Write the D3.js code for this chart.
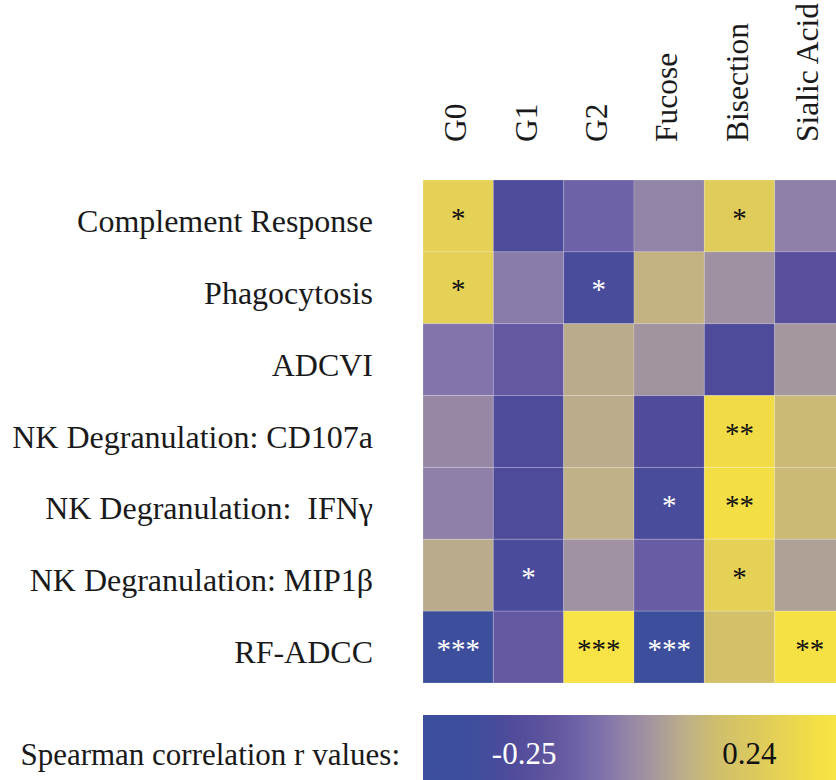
<!DOCTYPE html>
<html>
<head>
<meta charset="utf-8">
<script src="https://cdn.jsdelivr.net/npm/d3@7"></script>
<style>
  html, body { margin: 0; padding: 0; background: #fff; }
  svg { display: block; }
</style>
</head>
<body>
<svg id="chart" width="836" height="780"></svg>
<script>
// Glycan features (columns) and antibody functions (rows)
const glycans = ["G0", "G1", "G2", "Fucose", "Bisection", "Sialic Acid"];
const functions = [
  "Complement Response",
  "Phagocytosis",
  "ADCVI",
  "NK Degranulation: CD107a",
  "NK Degranulation:  IFN\u03b3",
  "NK Degranulation: MIP1\u03b2",
  "RF-ADCC"
];

// Spearman r per function, one value per glycan feature
const complementR = [0.30, -0.29, -0.14, -0.03, 0.27, -0.04];
const phagocytosisR = [0.30, -0.05, -0.31, 0.12, 0.01, -0.24];
const adcviR = [-0.07, -0.18, 0.09, 0.02, -0.29, 0.03];
const cd107aR = [-0.02, -0.29, 0.095, -0.27, 0.37, 0.15];
const ifngR = [-0.04, -0.29, 0.11, -0.31, 0.38, 0.15];
const mip1bR = [0.09, -0.30, 0.015, -0.16, 0.30, 0.06];
const rfAdccR = [-0.42, -0.18, 0.42, -0.42, 0.19, 0.40];
const rValues = [complementR, phagocytosisR, adcviR, cd107aR, ifngR, mip1bR, rfAdccR];

// Significance marks per cell
const complementSig = ["*", "", "", "", "*", ""];
const phagocytosisSig = ["*", "", "*", "", "", ""];
const adcviSig = ["", "", "", "", "", ""];
const cd107aSig = ["", "", "", "", "**", ""];
const ifngSig = ["", "", "", "*", "**", ""];
const mip1bSig = ["", "*", "", "", "*", ""];
const rfAdccSig = ["***", "", "***", "***", "", "**"];
const sigMarks = [complementSig, phagocytosisSig, adcviSig, cd107aSig, ifngSig, mip1bSig, rfAdccSig];

// Colour bar
const legendTitle = "Spearman correlation r values:";
const legendTicks = [-0.25, 0.24];
const legendDomain = [-0.47, 0.5];

// Diverging blue – purple – grey – tan – yellow palette
const colourStops = [-0.47, -0.353, -0.281, -0.194, -0.135, -0.063, -0.026, 0.03, 0.104, 0.176, 0.285, 0.393, 0.428, 0.5];
const colourRange = ["#3b4f9c", "#3f4e9c", "#4f4a9a", "#60559f", "#6e63a8", "#8577ab", "#9486a6",
                     "#a5979e", "#beb088", "#d0bf6a", "#e2ce58", "#f5e044", "#f7e445", "#f8e645"];

const color = d3.scaleLinear().domain(colourStops).range(colourRange).interpolate(d3.interpolateRgb).clamp(true);

const FONT = "Liberation Serif";
const FS = 31;
const svg = d3.select("#chart").attr("font-family", FONT);

const x = d3.scaleBand().domain(glycans).range([423, 845]).padding(0);
const y = d3.scaleBand().domain(functions).range([180, 683]).padding(0);

const cells = [];
functions.forEach((f, i) => {
  glycans.forEach((g, j) => {
    cells.push({ f, g, r: rValues[i][j], sig: sigMarks[i][j] });
  });
});

// Heatmap cells
svg.append("g").selectAll("rect")
  .data(cells)
  .join("rect")
  .attr("x", d => x(d.g))
  .attr("y", d => y(d.f))
  .attr("width", x.bandwidth())
  .attr("height", y.bandwidth())
  .attr("fill", d => color(d.r))
  .attr("stroke", "rgba(255,255,255,0.18)")
  .attr("stroke-width", 1);

// Significance asterisks: white on dark cells, black on light cells
const starFS = 29;
svg.append("g").selectAll("text")
  .data(cells.filter(d => d.sig))
  .join("text")
  .attr("x", d => x(d.g) + x.bandwidth() / 2)
  .attr("y", d => y(d.f) + y.bandwidth() / 2 + starFS * 0.4)
  .attr("text-anchor", "middle")
  .attr("font-family", FONT)
  .attr("font-size", starFS)
  .attr("fill", d => d.r < 0 ? "#ffffff" : "#111111")
  .text(d => d.sig);

// Row labels
svg.append("g").selectAll("text")
  .data(functions)
  .join("text")
  .attr("x", 373)
  .attr("y", d => y(d) + y.bandwidth() / 2 + 16)
  .attr("text-anchor", "end")
  .attr("font-family", FONT)
  .attr("font-size", 32)
  .attr("fill", "#1a1a1a")
  .attr("xml:space", "preserve")
  .style("white-space", "pre")
  .text(d => d);

// Column labels, rotated
svg.append("g").selectAll("text")
  .data(glycans)
  .join("text")
  .attr("transform", d => `translate(${x(d) + x.bandwidth() / 2 + 8},142) rotate(-90)`)
  .attr("text-anchor", "start")
  .attr("font-family", FONT)
  .attr("font-size", 31.5)
  .attr("fill", "#1a1a1a")
  .text(d => d);

// Colour bar
const lx = d3.scaleLinear().domain(legendDomain).range([423, 869]);
const defs = svg.append("defs");
const grad = defs.append("linearGradient")
  .attr("id", "rgrad")
  .attr("x1", "0%").attr("x2", "100%").attr("y1", "0%").attr("y2", "0%");
const nSteps = 40;
d3.range(nSteps + 1).forEach(k => {
  const v = legendDomain[0] + (legendDomain[1] - legendDomain[0]) * k / nSteps;
  grad.append("stop").attr("offset", (100 * k / nSteps) + "%").attr("stop-color", color(v));
});
svg.append("rect")
  .attr("x", lx(legendDomain[0]))
  .attr("y", 715)
  .attr("width", lx(legendDomain[1]) - lx(legendDomain[0]))
  .attr("height", 80)
  .attr("fill", "url(#rgrad)");

svg.append("g").selectAll("text")
  .data(legendTicks)
  .join("text")
  .attr("x", d => lx(d))
  .attr("y", 764)
  .attr("text-anchor", "middle")
  .attr("font-family", FONT)
  .attr("font-size", FS)
  .attr("fill", d => d < 0 ? "#ffffff" : "#111111")
  .text(d => d < 0 ? "-" + d3.format(".2f")(-d) : d3.format(".2f")(d));

svg.append("text")
  .attr("x", 400)
  .attr("y", 765)
  .attr("text-anchor", "end")
  .attr("font-family", FONT)
  .attr("font-size", FS)
  .attr("fill", "#1a1a1a")
  .text(legendTitle);
</script>
</body>
</html>
